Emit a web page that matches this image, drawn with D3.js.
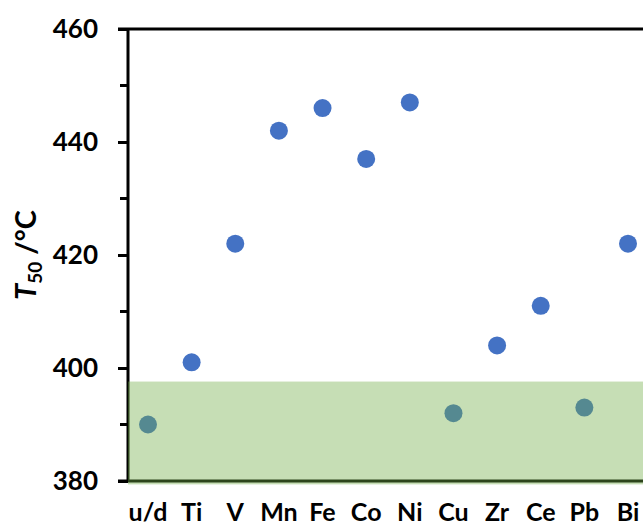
<!DOCTYPE html>
<html>
<head>
<meta charset="utf-8">
<script src="https://cdn.jsdelivr.net/npm/d3@7"></script>
<style>
  html, body { margin: 0; padding: 0; background: #fff; }
  svg { display: block; }
  text { font-family: Lato, "Open Sans", sans-serif; font-weight: bold; fill: #000; }
</style>
</head>
<body>
<svg id="chart" width="643" height="529"></svg>
<script>
// Light-off temperature (T50) per dopant
const categories = ["u/d", "Ti", "V", "Mn", "Fe", "Co", "Ni", "Cu", "Zr", "Ce", "Pb", "Bi"];
const t50Values = [390, 401, 422, 442, 446, 437, 447, 392, 404, 411, 393, 422];
const yTicks = [380, 400, 420, 440, 460];
const yMinorTicks = [390, 410, 430, 450];
const bandRange = [379.4, 397.6];   // shaded reference window

const width = 643, height = 529;
const margin = { top: 29, right: -20, bottom: 48, left: 128 };

const svg = d3.select("#chart");

const y = d3.scaleLinear()
  .domain([380, 460])
  .range([height - margin.bottom, margin.top]);

const x = d3.scalePoint()
  .domain(categories)
  .range([margin.left + 20, width - 15]);

const plotRight = width - margin.right;

// data points
svg.append("g")
  .selectAll("circle")
  .data(categories.map((c, i) => ({ c, v: t50Values[i] })))
  .join("circle")
  .attr("cx", d => x(d.c))
  .attr("cy", d => y(d.v))
  .attr("r", 9)
  .attr("fill", "#4472C4");

// frame: top and bottom lines
svg.append("line")
  .attr("x1", margin.left - 10).attr("x2", plotRight)
  .attr("y1", y(460)).attr("y2", y(460))
  .attr("stroke", "#000").attr("stroke-width", 3);
svg.append("line")
  .attr("x1", margin.left - 10).attr("x2", plotRight)
  .attr("y1", y(380)).attr("y2", y(380))
  .attr("stroke", "#000").attr("stroke-width", 3);

// left axis with major and minor ticks
const yAxis = svg.append("g")
  .attr("transform", `translate(${margin.left},0)`)
  .call(d3.axisLeft(y).tickValues(yTicks).tickSize(10).tickPadding(20).tickFormat(d3.format("d")));
yAxis.select(".domain").attr("stroke-width", 3).attr("d", `M0,${y(460)}V${y(380)}`);
yAxis.selectAll(".tick line").attr("stroke-width", 3);
yAxis.selectAll(".tick text")
  .style("font-size", "26px")
  .style("font-family", "Lato, sans-serif")
  .style("font-weight", "bold")
  .attr("fill", "#000");

svg.append("g")
  .selectAll("line")
  .data(yMinorTicks)
  .join("line")
  .attr("x1", margin.left - 8).attr("x2", margin.left)
  .attr("y1", d => y(d)).attr("y2", d => y(d))
  .attr("stroke", "#000").attr("stroke-width", 3);

// translucent green window drawn over the marks
svg.append("rect")
  .attr("x", margin.left)
  .attr("y", y(bandRange[1]))
  .attr("width", plotRight - margin.left)
  .attr("height", y(bandRange[0]) - y(bandRange[1]))
  .attr("fill", "#70AD47")
  .attr("fill-opacity", 0.4);

// category labels
svg.append("g")
  .selectAll("text")
  .data(categories)
  .join("text")
  .attr("x", d => x(d))
  .attr("y", 521)
  .attr("text-anchor", "middle")
  .style("font-size", "25px")
  .text(d => d);

// y-axis title
const title = svg.append("text")
  .attr("transform", `translate(36,${(margin.top + height - margin.bottom) / 2}) rotate(-90)`)
  .attr("text-anchor", "middle")
  .style("font-size", "29px");
title.append("tspan").style("font-style", "italic").text("T");
title.append("tspan").attr("dy", 6).style("font-size", "19px").text("50");
title.append("tspan").attr("dy", -6).text(" /°C");
</script>
</body>
</html>
